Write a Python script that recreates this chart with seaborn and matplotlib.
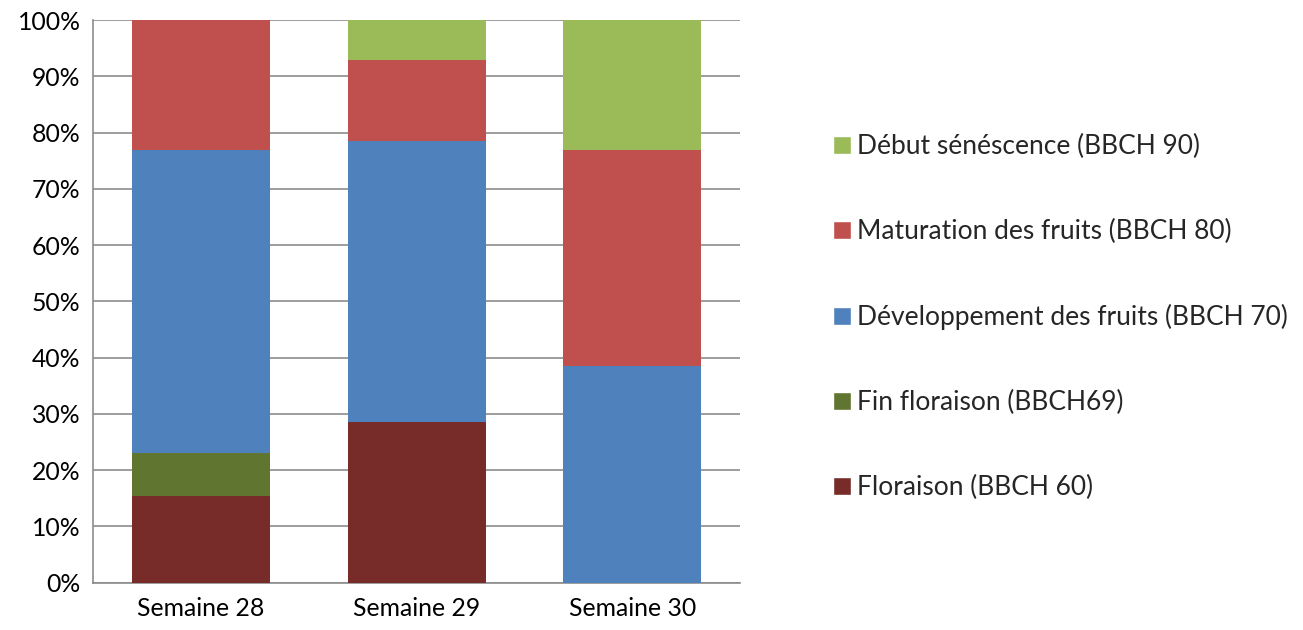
import numpy as np
import pandas as pd
import seaborn as sns
import matplotlib.pyplot as plt
from matplotlib.patches import Patch
from matplotlib.ticker import PercentFormatter

# data (share of plants per stage, %)
weeks = ['Semaine 28', 'Semaine 29', 'Semaine 30']
stages = ['Floraison (BBCH 60)', 'Fin floraison (BBCH69)',
          'Développement des fruits (BBCH 70)', 'Maturation des fruits (BBCH 80)',
          'Début sénéscence (BBCH 90)']
floraison = [15.38, 28.57, 0.0]
fin_floraison = [7.69, 0.0, 0.0]
developpement = [53.85, 50.0, 38.46]
maturation = [23.08, 14.29, 38.46]
senescence = [0.0, 7.14, 23.08]
colors = ['#772C2A', '#5F7530', '#4F81BD', '#C0504D', '#9BBB59']

df = pd.DataFrame({'week': weeks, stages[0]: floraison, stages[1]: fin_floraison,
                   stages[2]: developpement, stages[3]: maturation, stages[4]: senescence})

sns.set_style('white')
plt.rcParams['font.family'] = ['Lato', 'DejaVu Sans']

fig, ax = plt.subplots(figsize=(13.03, 6.3), dpi=100)
fig.subplots_adjust(left=0.0714, right=0.568, top=0.968, bottom=0.075)

# stacked bars: draw cumulative totals from the top stage down
cum = df[stages].cumsum(axis=1)
for stage, c in reversed(list(zip(stages, colors))):
    sns.barplot(x=df['week'], y=cum[stage], color=c, width=0.64, ax=ax,
                saturation=1, linewidth=0, edgecolor='none', zorder=3)

ax.set_ylim(0, 100)
ax.set_yticks(np.arange(0, 101, 10))
ax.yaxis.set_major_formatter(PercentFormatter(decimals=0))
ax.grid(axis='y', color='#8c8c8c', linewidth=1.2, zorder=0)
ax.set_axisbelow(True)
ax.set_xlabel('')
ax.set_ylabel('')
ax.tick_params(axis='both', labelsize=17.8, length=0, colors='black')
ax.tick_params(axis='x', pad=10)
ax.tick_params(axis='y', pad=9)
for s in ['top', 'right']:
    ax.spines[s].set_visible(False)
for s in ['left', 'bottom']:
    ax.spines[s].set_color('#8c8c8c')
    ax.spines[s].set_linewidth(1.2)

handles = [Patch(facecolor=c, label=s) for s, c in zip(stages, colors)][::-1]
fig.legend(handles=handles, loc='center left', bbox_to_anchor=(0.621, 0.497),
           frameon=False, fontsize=19, handlelength=0.68, handleheight=0.68,
           handletextpad=0.25, labelspacing=2.27)

fig.savefig('out.png', dpi=100)
